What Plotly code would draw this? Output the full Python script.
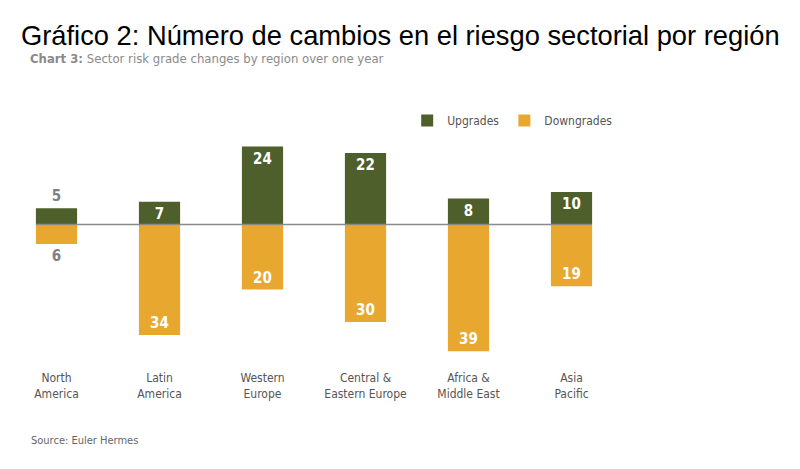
import plotly.graph_objects as go

categories = ["North<br>America", "Latin<br>America", "Western<br>Europe",
              "Central &<br>Eastern Europe", "Africa &<br>Middle East", "Asia<br>Pacific"]
upgrades = [5, 7, 24, 22, 8, 10]
downgrades = [6, 34, 20, 30, 39, 19]

GREEN = "#4e5f2b"
GOLD = "#e8a830"
NARROW = "DejaVu Sans Condensed"
NUMFONT = "DejaVu Sans Condensed"

W, H = 800, 469
PT, PB = 140, 369          # plot area top / bottom in pixels
L, R = 4.8, 800 - 622.8
T, B = PT, H - PB
PH = PB - PT
ppu = 3.25
zero_px = 224.5
y_top = (zero_px - PT) / ppu
y_bot = -(PB - zero_px) / ppu

fig = go.Figure()
fig.add_trace(go.Bar(
    x=list(range(len(categories))), y=upgrades, name="Upgrades",
    marker=dict(color=GREEN, line=dict(width=0)),
    text=[str(v) for v in upgrades],
    textposition=["outside" if i == 0 else "inside" for i in range(len(upgrades))],
    insidetextanchor="end", textangle=0,
    textfont=dict(family=NUMFONT, size=15, weight="bold",
                  color=["#808080" if i == 0 else "white" for i in range(len(upgrades))]),
    width=0.4,
))
fig.add_trace(go.Bar(
    x=list(range(len(categories))), y=[-v for v in downgrades], name="Downgrades",
    marker=dict(color=GOLD, line=dict(width=0)),
    text=[str(v) for v in downgrades],
    textposition=["outside" if i == 0 else "inside" for i in range(len(downgrades))],
    insidetextanchor="end", textangle=0,
    textfont=dict(family=NUMFONT, size=15, weight="bold",
                  color=["#808080" if i == 0 else "white" for i in range(len(downgrades))]),
    width=0.4,
))

fig.add_shape(type="line", xref="x", yref="y", x0=-0.2, x1=len(categories) - 0.8,
              y0=0, y1=0, line=dict(color="#8a8a8a", width=1.5), layer="above")

fig.update_layout(
    width=W, height=H,
    margin=dict(l=L, r=R, t=T, b=B, pad=0),
    barmode="relative",
    plot_bgcolor="white", paper_bgcolor="white",
    uniformtext=dict(minsize=15, mode="show"),
    showlegend=True,
    legend=dict(orientation="h", x=(407 - L) / (W - L - R), y=(PB - 106) / PH,
                xanchor="left", yanchor="top",
                font=dict(family=NARROW, size=12, color="#555555"),
                traceorder="normal", itemwidth=30),
    xaxis=dict(range=[-0.5, len(categories) - 0.5], tickmode="array",
               tickvals=list(range(len(categories))), ticktext=categories,
               showgrid=False, zeroline=False, showline=False, ticks="",
               tickfont=dict(family=NARROW, size=12, color="#555555"),
               automargin=False),
    yaxis=dict(range=[y_bot, y_top], visible=False, fixedrange=True),
    title=dict(text="Gráfico 2: Número de cambios en el riesgo sectorial por región",
               x=21 / W, xanchor="left", xref="container",
               y=1 - 35 / H, yanchor="middle", yref="container",
               font=dict(family="Liberation Sans, Arial, sans-serif", size=27.3, color="black")),
)

fig.add_annotation(text="<b>Chart 3:</b> Sector risk grade changes by region over one year",
                   xref="paper", yref="paper",
                   x=(28 - L) / (W - L - R), y=(PB - 58) / PH,
                   xanchor="left", yanchor="middle", showarrow=False,
                   font=dict(family=NARROW, size=13, color="#8a8a8a"))
fig.add_annotation(text="Source: Euler Hermes",
                   xref="paper", yref="paper",
                   x=(29 - L) / (W - L - R), y=(PB - 440) / PH,
                   xanchor="left", yanchor="middle", showarrow=False,
                   font=dict(family=NARROW, size=11, color="#666666"))

fig.write_html("out.html")
